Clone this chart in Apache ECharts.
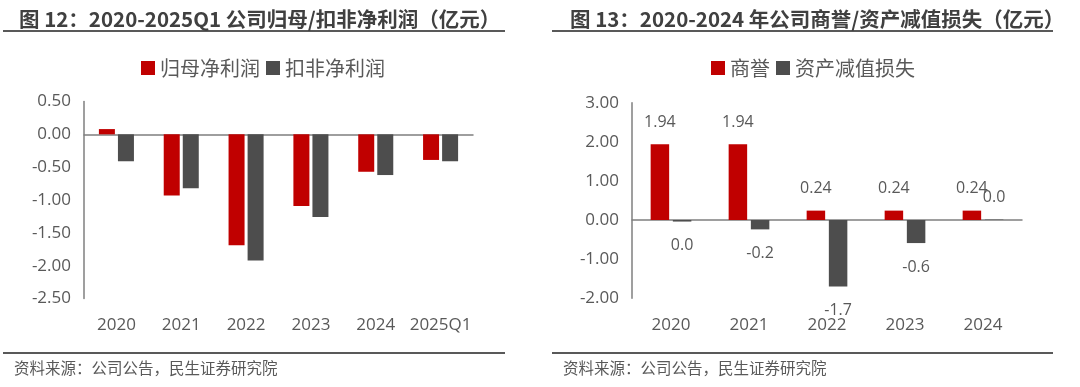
<!DOCTYPE html>
<html>
<head>
<meta charset="utf-8">
<script src="https://cdn.jsdelivr.net/npm/echarts@6/dist/echarts.min.js"></script>
<style>
html,body{margin:0;padding:0;background:#fff;}
#c{width:1080px;height:387px;}
</style>
</head>
<body>
<div id="c"></div>
<script>
// ---- data ----
const titleL = '图 12：2020-2025Q1 公司归母/扣非净利润（亿元）';
const titleR = '图 13：2020-2024 年公司商誉/资产减值损失（亿元）';
const sourceText = '资料来源：公司公告，民生证券研究院';
const catsL = ['2020', '2021', '2022', '2023', '2024', '2025Q1'];
const seriesNamesL = ['归母净利润', '扣非净利润'];
const parentNP = [0.08, -0.93, -1.69, -1.09, -0.57, -0.39];
const deductNP = [-0.41, -0.82, -1.92, -1.26, -0.62, -0.41];
const catsR = ['2020', '2021', '2022', '2023', '2024'];
const seriesNamesR = ['商誉', '资产减值损失'];
const goodwill = [1.94, 1.94, 0.24, 0.24, 0.24];
const impairment = [-0.04, -0.24, -1.70, -0.59, 0.01];

const RED = '#C00000', GRAY = '#4D4D4D', TXT = '#595959', AX = '#7F7F7F';
const CJK = '"Noto Sans CJK SC", sans-serif';
const NUM = '"Open Sans", "Noto Sans CJK SC", sans-serif';

function fmt1(v) { let s = Number(v).toFixed(1); return s === '-0.0' ? '0.0' : s; }
function withLabelPos(arr, dTop, dBottom) {
  return arr.map(v => ({ value: v, label: { position: v < 0 ? 'bottom' : 'top', distance: v < 0 ? dBottom : dTop } }));
}

const chart = echarts.init(document.getElementById('c'), null, { renderer: 'canvas' });

const grids = [
  { left: 84, top: 101.5, width: 389, height: 197 },
  { left: 632, top: 102.7, width: 390, height: 195.5 }
];

function xAxes(gi, cats) {
  return [
    { type: 'category', gridIndex: gi, data: cats, position: 'bottom',
      axisLine: { show: false, onZero: false }, axisTick: { show: false },
      axisLabel: { interval: 0, color: TXT, fontSize: 17, fontFamily: NUM, margin: 18 } },
    { type: 'category', gridIndex: gi, data: cats, position: 'bottom',
      axisLine: { show: true, onZero: true, lineStyle: { color: AX, width: 1.5 } },
      axisTick: { show: false }, axisLabel: { show: false } }
  ];
}

const option = {
  animation: false,
  title: [
    { text: titleL, left: 14, top: 4, textStyle: { fontSize: 20.5, fontWeight: 'bold', color: '#404040', fontFamily: CJK } },
    { text: titleR, left: 565, top: 4, textStyle: { fontSize: 20.5, fontWeight: 'bold', color: '#404040', fontFamily: CJK } }
  ],
  legend: [
    { data: seriesNamesL, left: 136, top: 53, icon: 'rect', itemWidth: 14, itemHeight: 14, itemGap: 6,
      textStyle: { fontSize: 20, color: TXT, fontFamily: CJK } },
    { data: seriesNamesR, left: 706, top: 53, icon: 'rect', itemWidth: 14, itemHeight: 14, itemGap: 6,
      textStyle: { fontSize: 20, color: TXT, fontFamily: CJK } }
  ],
  grid: grids,
  xAxis: [].concat(xAxes(0, catsL), xAxes(1, catsR)),
  yAxis: [
    { type: 'value', gridIndex: 0, min: -2.5, max: 0.5, interval: 0.5,
      axisLine: { show: true, lineStyle: { color: AX, width: 1.5 } }, axisTick: { show: false },
      splitLine: { show: false },
      axisLabel: { color: TXT, fontSize: 17, fontFamily: NUM, margin: 13, formatter: v => v.toFixed(2) } },
    { type: 'value', gridIndex: 1, min: -2, max: 3, interval: 1,
      axisLine: { show: true, lineStyle: { color: AX, width: 1.5 } }, axisTick: { show: false },
      splitLine: { show: false },
      axisLabel: { color: TXT, fontSize: 17, fontFamily: NUM, margin: 13, formatter: v => v.toFixed(2) } }
  ],
  series: [
    { name: seriesNamesL[0], type: 'bar', xAxisIndex: 0, yAxisIndex: 0, data: parentNP,
      barWidth: 16, barGap: '19%', itemStyle: { color: RED } },
    { name: seriesNamesL[1], type: 'bar', xAxisIndex: 0, yAxisIndex: 0, data: deductNP,
      barWidth: 16, barGap: '19%', itemStyle: { color: GRAY } },
    { name: seriesNamesR[0], type: 'bar', xAxisIndex: 2, yAxisIndex: 1, data: withLabelPos(goodwill, 14, 16),
      barWidth: 18.5, barGap: '20%', itemStyle: { color: RED },
      label: { show: true, color: TXT, fontSize: 16, fontFamily: NUM, formatter: p => Number(p.value).toFixed(2) } },
    { name: seriesNamesR[1], type: 'bar', xAxisIndex: 2, yAxisIndex: 1, data: withLabelPos(impairment, 14, 16),
      barWidth: 18.5, barGap: '20%', itemStyle: { color: GRAY },
      label: { show: true, color: TXT, fontSize: 16, fontFamily: NUM, formatter: p => fmt1(p.value) } }
  ],
  graphic: [
    { type: 'line', shape: { x1: 3, y1: 31, x2: 505, y2: 31 }, style: { stroke: '#595959', lineWidth: 2 } },
    { type: 'line', shape: { x1: 552, y1: 31, x2: 1053, y2: 31 }, style: { stroke: '#595959', lineWidth: 2 } },
    { type: 'line', shape: { x1: 3, y1: 353, x2: 505, y2: 353 }, style: { stroke: '#595959', lineWidth: 2 } },
    { type: 'line', shape: { x1: 552, y1: 353, x2: 1053, y2: 353 }, style: { stroke: '#595959', lineWidth: 2 } },
    { type: 'text', left: 14, top: 360, style: { text: sourceText, fill: TXT, fontSize: 15.5, fontFamily: CJK } },
    { type: 'text', left: 563, top: 360, style: { text: sourceText, fill: TXT, fontSize: 15.5, fontFamily: CJK } }
  ]
};
chart.setOption(option);
</script>
</body>
</html>
